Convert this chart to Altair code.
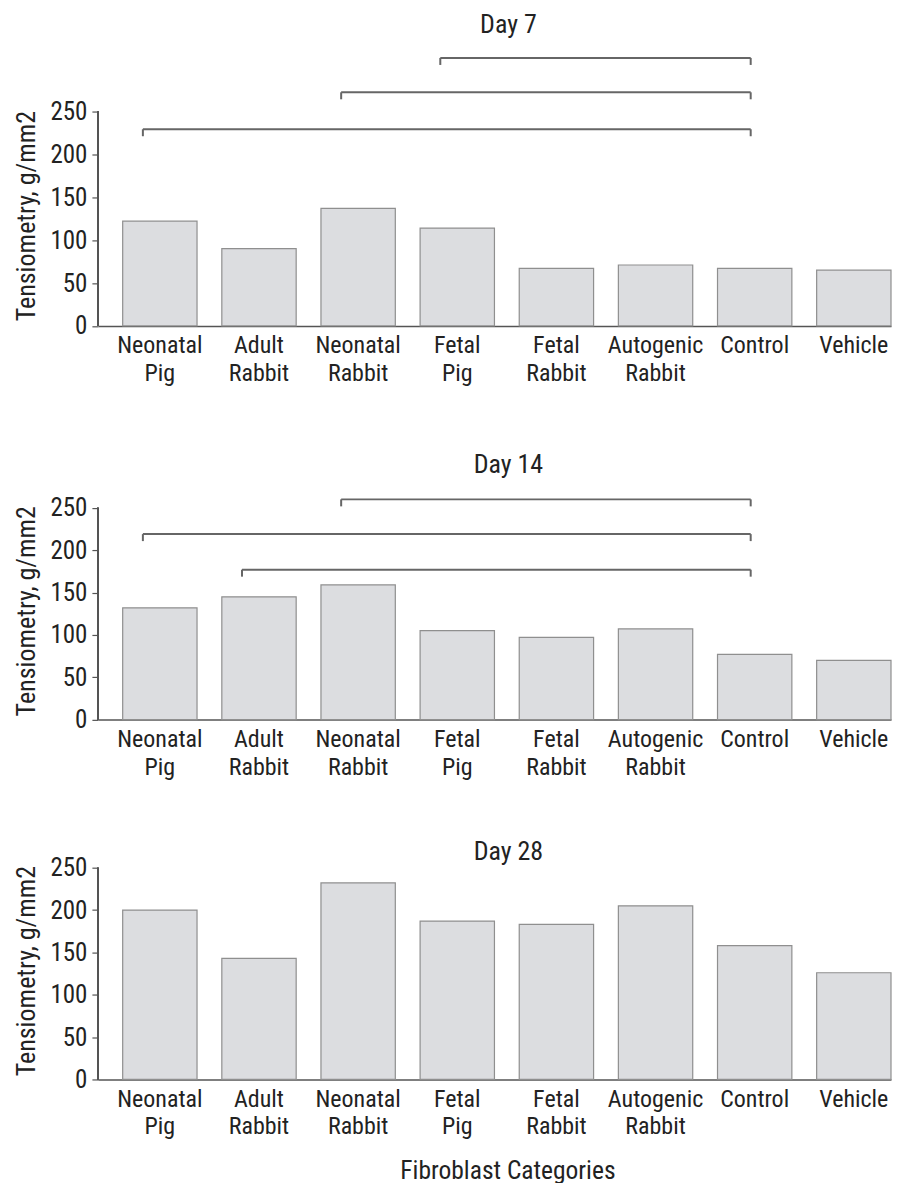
import altair as alt
import pandas as pd

categories = ["Neonatal Pig", "Adult Rabbit", "Neonatal Rabbit", "Fetal Pig",
              "Fetal Rabbit", "Autogenic Rabbit", "Control", "Vehicle"]

day7_values = [122, 90, 137, 114, 67, 71, 67, 65]
day14_values = [132, 145, 159, 105, 97, 107, 77, 70]
day28_values = [200, 143, 232, 187, 183, 205, 158, 126]

day7_from = ["Neonatal Pig", "Neonatal Rabbit", "Fetal Pig"]
day7_to = ["Control", "Control", "Control"]
day7_levels = [229, 272, 312]

day14_from = ["Adult Rabbit", "Neonatal Pig", "Neonatal Rabbit"]
day14_to = ["Control", "Control", "Control"]
day14_levels = [177, 219, 260]

y_ticks = [0, 50, 100, 150, 200, 250]
y_title = "Tensiometry, g/mm2"
x_title = "Fibroblast Categories"

FONT = "Liberation Sans Narrow, Roboto Condensed, Arial Narrow, DejaVu Sans Condensed, sans-serif"
TXT = "#222222"
AX = "#555555"
W = 794


def panel(title, values, b_from, b_to, b_levels, ytop, px, title_offset, show_xtitle):
    height = ytop * px
    h250 = 250 * px
    df = pd.DataFrame({"cat": categories, "val": values})
    xscale = alt.Scale(domain=categories, paddingInner=0.25, paddingOuter=0.125, align=1)
    yscale = alt.Scale(domain=[0, ytop], nice=False, zero=True)
    xaxis = alt.Axis(
        labelAngle=0, labelExpr="split(datum.label, ' ')", labelFontSize=24,
        labelLineHeight=27.5, labelPadding=8, labelColor=TXT, ticks=False,
        domainColor=AX, domainWidth=1.5,
        title=x_title if show_xtitle else None,
        titleFontSize=25.5, titleFontWeight="normal", titleColor=TXT,
        titlePadding=20, titleX=W / 2 + 13, titleAlign="center",
    )
    yaxis = alt.Axis(
        values=y_ticks, domain=False, grid=False, tickSize=6, tickColor=AX,
        tickWidth=1.2, labelFontSize=25, labelColor=TXT, labelPadding=5,
        title=y_title, titleFontSize=26, titleFontWeight="normal",
        titleColor=TXT, titlePadding=10, titleY=height - h250 / 2 - 3,
    )
    bars = alt.Chart(df).mark_bar(
        color="#dcdde0", stroke="#8f8f8f", strokeWidth=1.2
    ).encode(
        x=alt.X("cat:N", scale=xscale, axis=xaxis, sort=categories),
        y=alt.Y("val:Q", scale=yscale, axis=yaxis),
    )
    yline = alt.Chart(df).mark_rule(color=AX, strokeWidth=1.5).encode(
        x=alt.value(0), y=alt.datum(0), y2=alt.datum(250)
    )
    layers = [bars, yline]
    if b_from:
        bdf = pd.DataFrame({"a": b_from, "b": b_to, "lvl": b_levels})
        base = alt.Chart(bdf)
        hline = base.mark_rule(color="#666666", strokeWidth=2, xOffset=-17, x2Offset=-4).encode(
            x=alt.X("a:N", scale=xscale, sort=categories), x2="b:N", y=alt.Y("lvl:Q", scale=yscale)
        )
        ltick = base.mark_rule(color="#666666", strokeWidth=2, xOffset=-17, y2Offset=7).encode(
            x=alt.X("a:N", scale=xscale, sort=categories), y=alt.Y("lvl:Q", scale=yscale), y2="lvl:Q"
        )
        rtick = base.mark_rule(color="#666666", strokeWidth=2, xOffset=-4, y2Offset=7).encode(
            x=alt.X("b:N", scale=xscale, sort=categories), y=alt.Y("lvl:Q", scale=yscale), y2="lvl:Q"
        )
        layers += [hline, ltick, rtick]
    return alt.layer(*layers).properties(
        width=W, height=height,
        title=alt.TitleParams(title, fontSize=26, fontWeight="normal", color=TXT,
                              anchor="middle", dx=14, offset=title_offset),
    )


p1 = panel("Day 7", day7_values, day7_from, day7_to, day7_levels, 331, 0.86, 4, False)
p2 = panel("Day 14", day14_values, day14_from, day14_to, day14_levels, 278, 0.848, 6, False)
p3 = panel("Day 28", day28_values, [], [], [], 250, 0.848, -9, True)

chart = alt.vconcat(
    alt.vconcat(p1, p2, spacing=66), p3, spacing=59
).properties(
    padding={"left": 5, "top": 3, "right": 0, "bottom": 0}
).configure(
    font=FONT
).configure_view(stroke=None).configure_axis(
    labelFont=FONT, titleFont=FONT
).configure_title(font=FONT)

chart.save("out.html", embed_options={"renderer": "svg", "actions": False})
